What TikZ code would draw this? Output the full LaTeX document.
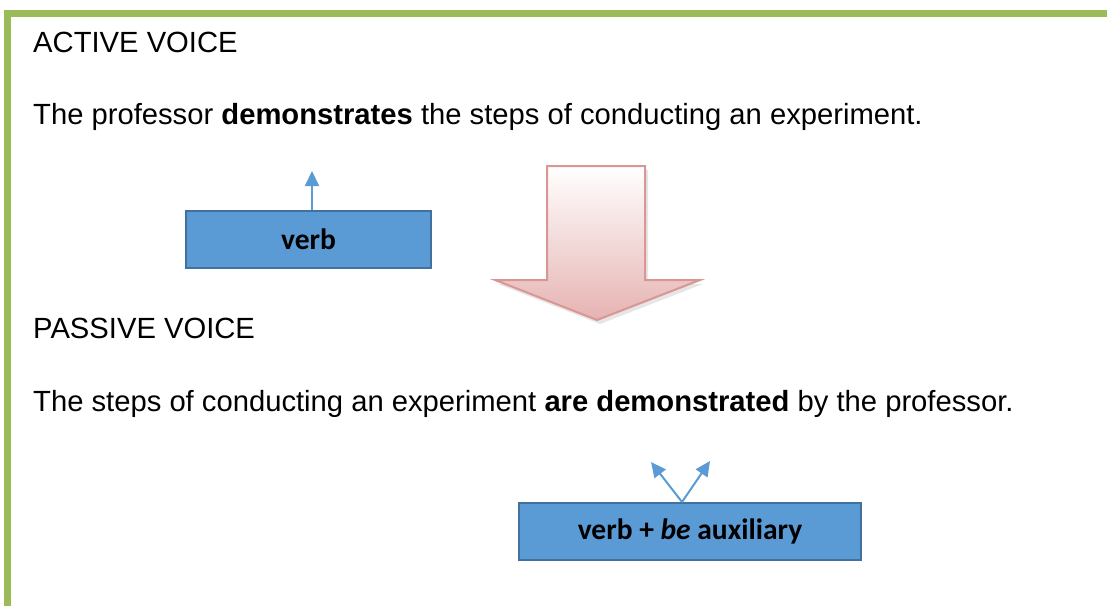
\documentclass[tikz,border=0pt]{standalone}
\usepackage{fontspec}
\setmainfont{Liberation Sans}
\newfontfamily\boxfont{Carlito}
\usetikzlibrary{arrows.meta,shadows}
\definecolor{bordergreen}{HTML}{9BBB59}
\definecolor{boxblue}{HTML}{5B9BD5}
\definecolor{boxedge}{HTML}{41719C}
\definecolor{pinkedge}{HTML}{D99694}
\definecolor{pinkfill}{HTML}{E6B3B2}
\begin{document}
\begin{tikzpicture}[x=1pt,y=-1pt,
  txt/.style={anchor=base west,inner sep=0pt,font=\fontsize{29.2}{34}\selectfont},
  bluebox/.style={draw=boxedge,fill=boxblue,line width=2pt,minimum height=57pt,inner sep=0pt,
    font=\boxfont\bfseries\fontsize{29.5}{34}\selectfont},
  pointer/.style={draw=boxblue,line width=2pt,-{Triangle[length=15pt,width=14pt]}}]
\useasboundingbox (0,0) rectangle (1107,606);
% green frame
\fill[bordergreen] (4,10) rectangle (1107,17);
\fill[bordergreen] (4,10) rectangle (11,606);
% texts
\node[txt] (h1) at (33,52) {ACTIVE VOICE};
\node[txt] (s1) at (33,124) {The professor \textbf{demonstrates} the steps of conducting an experiment.};
\node[txt] (h2) at (33,338) {PASSIVE VOICE};
\node[txt] (s2) at (33,411) {The steps of conducting an experiment \textbf{are demonstrated} by the professor.};
% boxes
\node[bluebox,minimum width=245pt] (verb) at (308.5,239.5) {verb};
\node[bluebox,minimum width=342pt] (verbbe) at (690,531.5) {verb + \textit{be} auxiliary};
% pointers
\coordinate (t1) at (312,171);
\coordinate (t2) at (651,462);
\coordinate (t3) at (710,461);
\draw[pointer] ([xshift=3.5pt]verb.north) -- (t1);
\draw[pointer] ([xshift=-8pt]verbbe.north) -- (t2);
\draw[pointer] ([xshift=-8pt]verbbe.north) -- (t3);
% block arrow
\path[draw=pinkedge,line width=2pt,top color=white,bottom color=pinkfill,
  drop shadow={opacity=0.2,shadow xshift=3pt,shadow yshift=-4pt}]
  (547,166) -- (645,166) -- (645,280) -- (700,280) -- (597,320) -- (495,280) -- (547,280) -- cycle;
\end{tikzpicture}
\end{document}
